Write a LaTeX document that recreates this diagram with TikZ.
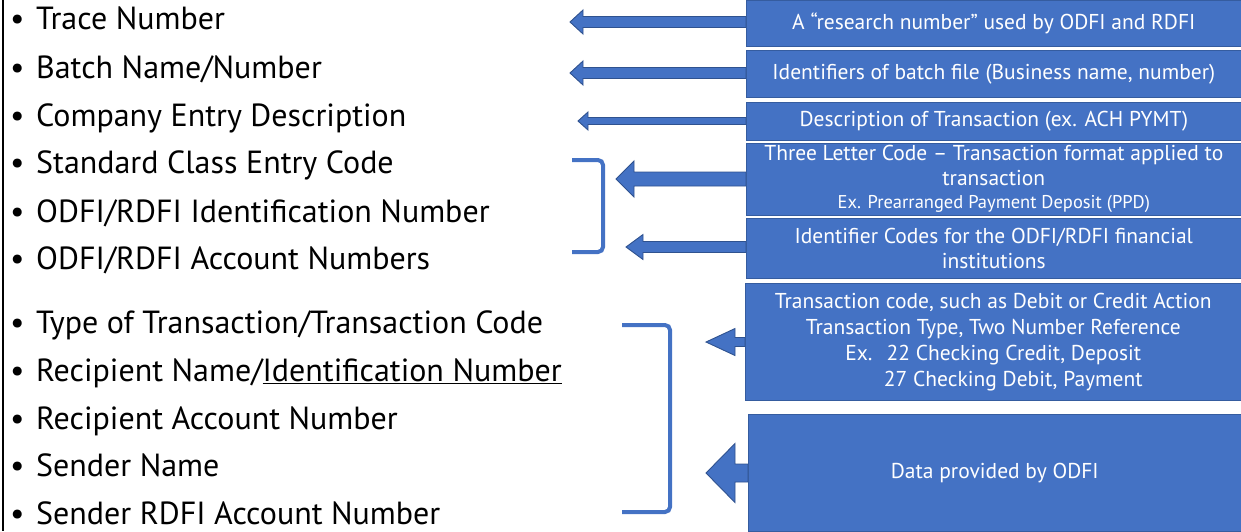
\documentclass[tikz,border=0pt]{standalone}
\usepackage{fontspec}
\setmainfont{PT Sans}
\usetikzlibrary{calc}
\definecolor{boxblue}{HTML}{4472C4}
\definecolor{edgeblue}{HTML}{2F528F}
\pgfdeclarelayer{bg}
\pgfsetlayers{bg,main}
\newcommand{\blockarr}[5]{%
  \draw[blockarrow] ($(#1.west |- #2)+(0,-#3)$) -- ($(#2)+(#5,-#3)$) -- ($(#2)+(#5,-#4)$) -- (#2)
    -- ($(#2)+(#5,#4)$) -- ($(#2)+(#5,#3)$) -- ($(#1.west |- #2)+(0,#3)$) -- cycle;}
\begin{document}
\begin{tikzpicture}[x=1pt,y=-1pt,
  item/.style={anchor=base west, inner sep=0pt, font=\fontsize{32}{38}\selectfont},
  infobox/.style={fill=boxblue, draw=edgeblue!70!boxblue, line width=0.6pt, anchor=north west,
     inner sep=0pt, text=white, align=center, font=\fontsize{21.5}{25}\selectfont},
  blockarrow/.style={fill=boxblue, draw=edgeblue, line width=0.9pt, line join=miter},
  bracket/.style={draw=boxblue, line width=4pt, rounded corners=5pt}]
\useasboundingbox (0,0) rectangle (1241,531);
% left border
\coordinate (l0) at (3,0);
\coordinate (l1) at (3,531);
\draw[line width=2pt] (l0) -- (l1);
% left items
\newcommand{\bul}{\makebox[26pt][l]{•}}
\node[item] (t1) at (10,29) {\bul Trace Number};
\node[item] (t2) at (10,78) {\bul Batch Name/Number};
\node[item] (t3) at (10,126) {\bul Company Entry Description};
\node[item] (t4) at (10,173) {\bul Standard Class Entry Code};
\node[item] (t5) at (10,222) {\bul ODFI/RDFI Identification Number};
\node[item] (t6) at (10,269) {\bul ODFI/RDFI Account Numbers};
\node[item] (t7) at (10,333) {\bul Type of Transaction/Transaction Code};
\node[item] (t8) at (10,381) {\bul Recipient Name/\underline{Identification Number}};
\node[item] (t9) at (10,429) {\bul Recipient Account Number};
\node[item] (t10) at (10,476) {\bul Sender Name};
\node[item] (t11) at (10,524) {\bul Sender RDFI Account Number};
% boxes
\node[infobox, minimum width=495pt, minimum height=46pt] (b1) at (746,0) {A “research number” used by ODFI and RDFI};
\node[infobox, minimum width=495pt, minimum height=47pt] (b2) at (746,50) {Identifiers of batch file (Business name, number)};
\node[infobox, minimum width=495pt, minimum height=38pt] (b3) at (746,102) {Description of Transaction (ex. ACH PYMT)};
\node[infobox, minimum width=495pt, minimum height=72pt] (b4) at (746,143) {\raisebox{0pt}[14pt][0pt]{Three Letter Code – Transaction format applied to}\\ transaction\\[-2pt] {\fontsize{18.5}{18}\selectfont Ex. Prearranged Payment Deposit (PPD)}};
\node[infobox, minimum width=495pt, minimum height=60pt] (b5) at (746,218) {Identifier Codes for the ODFI/RDFI financial\\ institutions};
\node[infobox, minimum width=496pt, minimum height=117pt, font=\fontsize{21.5}{26}\selectfont] (b6) at (745,283) {Transaction code, such as Debit or Credit Action\\ Transaction Type, Two Number Reference\\ Ex.\hspace*{14pt}22 Checking Credit, Deposit\hspace*{50pt}\\ \hspace*{40pt}27 Checking Debit, Payment};
\node[infobox, minimum width=493pt, minimum height=117pt] (b7) at (748,414) {Data provided by ODFI};
% arrow tips
\coordinate (p1) at (570,22);
\coordinate (p2) at (570,73);
\coordinate (p3) at (578,121);
\coordinate (p4) at (616,179);
\coordinate (p5) at (626,247);
\coordinate (p6) at (706,342);
\coordinate (p7) at (706,473);
\begin{pgfonlayer}{bg}
\blockarr{b1}{p1}{5.5}{12}{13}
\blockarr{b2}{p2}{5.5}{12}{13}
\blockarr{b3}{p3}{3.5}{9}{10}
\blockarr{b4}{p4}{7}{18}{18}
\blockarr{b5}{p5}{5.5}{12.5}{17}
\blockarr{b6}{p6}{4.5}{13.5}{29}
\blockarr{b7}{p7}{9}{29.5}{29}
\end{pgfonlayer}
% brackets
\coordinate (r1a) at (572,160);
\coordinate (r1b) at (603,160);
\coordinate (r1c) at (603,252);
\coordinate (r1d) at (572,252);
\draw[bracket] (r1a) -- (r1b) -- (r1c) -- (r1d);
\coordinate (r2a) at (622,325);
\coordinate (r2b) at (670,325);
\coordinate (r2c) at (670,512);
\coordinate (r2d) at (622,512);
\draw[bracket] (r2a) -- (r2b) -- (r2c) -- (r2d);
\end{tikzpicture}
\end{document}
